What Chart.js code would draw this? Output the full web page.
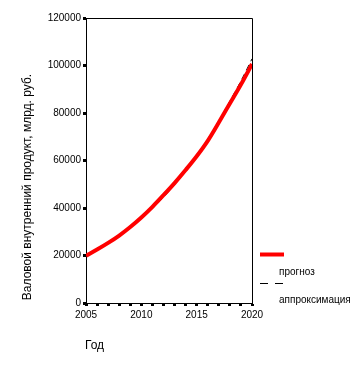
<!DOCTYPE html>
<html lang="ru">
<head>
  <meta charset="UTF-8">
  <title>ВВП</title>
  <script src="https://cdn.jsdelivr.net/npm/chart.js"></script>
  <style>
    body { margin: 0; background: #fff; }
    canvas { display: block; }
  </style>
</head>
<body>
  <canvas id="gdpChart" width="363" height="370"></canvas>
  <script>
    const years = [2005, 2006, 2007, 2008, 2009, 2010, 2011, 2012, 2013, 2014, 2015, 2016, 2017, 2018, 2019, 2020];
    const forecast = [19900, 22500, 25300, 28400, 32000, 36000, 40500, 45400, 50500, 56000, 61800, 68300, 76000, 84000, 92000, 100600];
    const approx = [19800, 22200, 25000, 28000, 31500, 35400, 39700, 44500, 49800, 55600, 62000, 69000, 76700, 85000, 93500, 102800];
    const yTicks = [0, 20000, 40000, 60000, 80000, 100000, 120000];
    const xLabels = [2005, 2010, 2015, 2020];

    const FONT = "'Liberation Sans', Arial, sans-serif";

    // рамка, подписи осей и легенда
    const decor = {
      id: 'decor',
      afterDatasetsDraw(chart) {
        const ctx = chart.ctx;
        const a = chart.chartArea;
        ctx.save();
        ctx.strokeStyle = '#000';
        ctx.lineWidth = 1;
        ctx.beginPath();
        ctx.moveTo(a.left, a.top + 0.5);
        ctx.lineTo(a.right + 0.5, a.top + 0.5);
        ctx.lineTo(a.right + 0.5, a.bottom);
        ctx.stroke();

        ctx.fillStyle = '#000';
        ctx.font = '12px ' + FONT;
        ctx.textBaseline = 'middle';
        ctx.textAlign = 'left';
        ctx.fillText('Год', 85, 346);

        ctx.save();
        ctx.translate(28, 187);
        ctx.rotate(-Math.PI / 2);
        ctx.textAlign = 'center';
        ctx.fillText('Валовой внутренний продукт, млрд. руб.', 0, 0);
        ctx.restore();

        const ds = chart.data.datasets;
        ctx.strokeStyle = ds[0].borderColor;
        ctx.lineWidth = 4;
        ctx.beginPath();
        ctx.moveTo(260, 254.5);
        ctx.lineTo(284, 254.5);
        ctx.stroke();

        ctx.strokeStyle = ds[1].borderColor;
        ctx.lineWidth = 1;
        ctx.setLineDash([8, 7]);
        ctx.beginPath();
        ctx.moveTo(260, 283.5);
        ctx.lineTo(285, 283.5);
        ctx.stroke();
        ctx.setLineDash([]);

        ctx.font = '10px ' + FONT;
        ctx.fillText(ds[0].label, 279, 272);
        ctx.fillText(ds[1].label, 279, 300);
        ctx.restore();
      }
    };

    new Chart(document.getElementById('gdpChart'), {
      type: 'line',
      data: {
        datasets: [{
          label: 'прогноз',
          data: years.map((x, i) => ({ x: x, y: forecast[i] })),
          borderColor: '#ff0000',
          borderWidth: 4,
          pointRadius: 0,
          cubicInterpolationMode: 'monotone',
          order: 0
        }, {
          label: 'аппроксимация',
          data: years.map((x, i) => ({ x: x, y: approx[i] })),
          borderColor: '#000000',
          borderWidth: 1,
          borderDash: [6, 4],
          pointRadius: 0,
          cubicInterpolationMode: 'monotone',
          order: 1
        }]
      },
      options: {
        responsive: false,
        animation: false,
        devicePixelRatio: 1,
        layout: { padding: { left: 0, top: 18, right: 111, bottom: 0 } },
        plugins: {
          legend: { display: false },
          tooltip: { enabled: false }
        },
        scales: {
          x: {
            type: 'linear',
            min: 2005,
            max: 2020,
            afterFit: s => { s.height = 67; },
            border: { color: '#000', width: 1 },
            grid: {
              drawOnChartArea: false,
              color: '#000',
              tickLength: 3,
              tickWidth: 3
            },
            ticks: {
              stepSize: 1,
              autoSkip: false,
              maxRotation: 0,
              padding: 3,
              color: '#000',
              font: { family: FONT, size: 10 },
              callback: v => xLabels.includes(v) ? String(v) : ''
            }
          },
          y: {
            min: 0,
            max: 120000,
            afterFit: s => { s.width = 86; },
            afterBuildTicks: s => { s.ticks = yTicks.map(v => ({ value: v })); },
            border: { color: '#000', width: 1 },
            grid: {
              drawOnChartArea: false,
              color: '#000',
              tickLength: 3,
              tickWidth: 3
            },
            ticks: {
              padding: 2,
              color: '#000',
              font: { family: FONT, size: 10 },
              callback: v => String(v)
            }
          }
        }
      },
      plugins: [decor]
    });
  </script>
</body>
</html>
